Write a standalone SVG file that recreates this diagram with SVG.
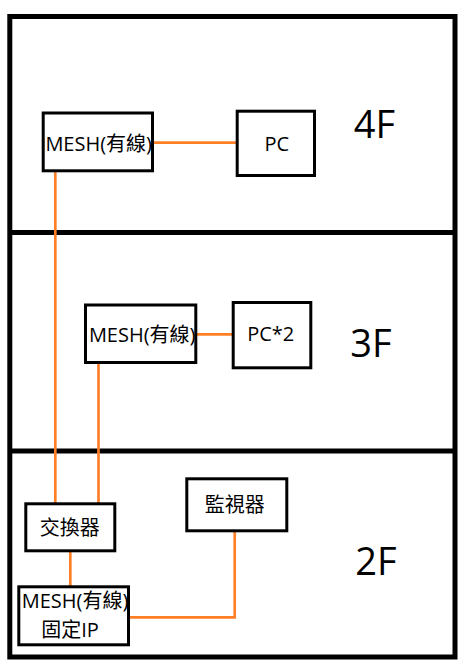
<svg xmlns="http://www.w3.org/2000/svg" width="467" height="671" viewBox="0 0 467 671">
<style>
.frame{fill:none;stroke:#000;stroke-width:5}
.box{fill:#fff;stroke:#000;stroke-width:3}
.wire{fill:none;stroke:#FF7F27;stroke-width:2.7}
.t{font-family:"Open Sans","Noto Sans CJK TC",sans-serif;font-size:20px;fill:#000;text-anchor:middle}
.fl{font-family:"Open Sans","Noto Sans",sans-serif;font-size:38px;fill:#000;text-anchor:middle}
</style>
<rect width="467" height="671" fill="#fff"/>
<g id="building">
<rect class="frame" x="9.8" y="16.5" width="445.2" height="640.5"/>
<line class="frame" x1="9.8" y1="232.5" x2="455" y2="232.5"/>
<line class="frame" x1="9.8" y1="451" x2="455" y2="451"/>
<text class="fl" x="374.5" y="138">4F</text>
<text class="fl" x="371" y="357">3F</text>
<text class="fl" x="376" y="575">2F</text>
</g>
<g id="connectors">
<line class="wire" x1="152" y1="142.7" x2="237" y2="142.7"/>
<line class="wire" x1="55.3" y1="171" x2="55.3" y2="504"/>
<line class="wire" x1="196" y1="334.3" x2="233" y2="334.3"/>
<line class="wire" x1="98.5" y1="362.5" x2="98.5" y2="504"/>
<line class="wire" x1="70.3" y1="551" x2="70.3" y2="587"/>
<polyline class="wire" points="234.7,531 234.7,617.3 128.5,617.3"/>
</g>
<g id="mesh4f">
<rect class="box" x="43.2" y="113" width="109.3" height="57.8"/>
<text class="t" x="98.7" y="150.7">MESH(有線)</text>
</g>
<g id="pc4f">
<rect class="box" x="237.2" y="111.2" width="77.3" height="64.3"/>
<text class="t" x="276.7" y="150.7">PC</text>
</g>
<g id="mesh3f">
<rect class="box" x="85.5" y="305" width="110.3" height="57.5"/>
<text class="t" x="142.2" y="342.3">MESH(有線)</text>
</g>
<g id="pc3f">
<rect class="box" x="233.2" y="302.5" width="77.6" height="65.3"/>
<text class="t" x="270.7" y="340.7">PC*2</text>
</g>
<g id="switch">
<rect class="box" x="25.8" y="503.8" width="89" height="47"/>
<text class="t" x="69.8" y="535">交換器</text>
</g>
<g id="monitor">
<rect class="box" x="186.8" y="478.8" width="100" height="52"/>
<text class="t" x="234.8" y="511.7">監視器</text>
</g>
<g id="mesh2f">
<rect class="box" x="18.8" y="586.8" width="109.7" height="58"/>
<text class="t" x="75" y="608.3">MESH(有線)</text>
<text class="t" x="70" y="637.3">固定IP</text>
</g>
</svg>
